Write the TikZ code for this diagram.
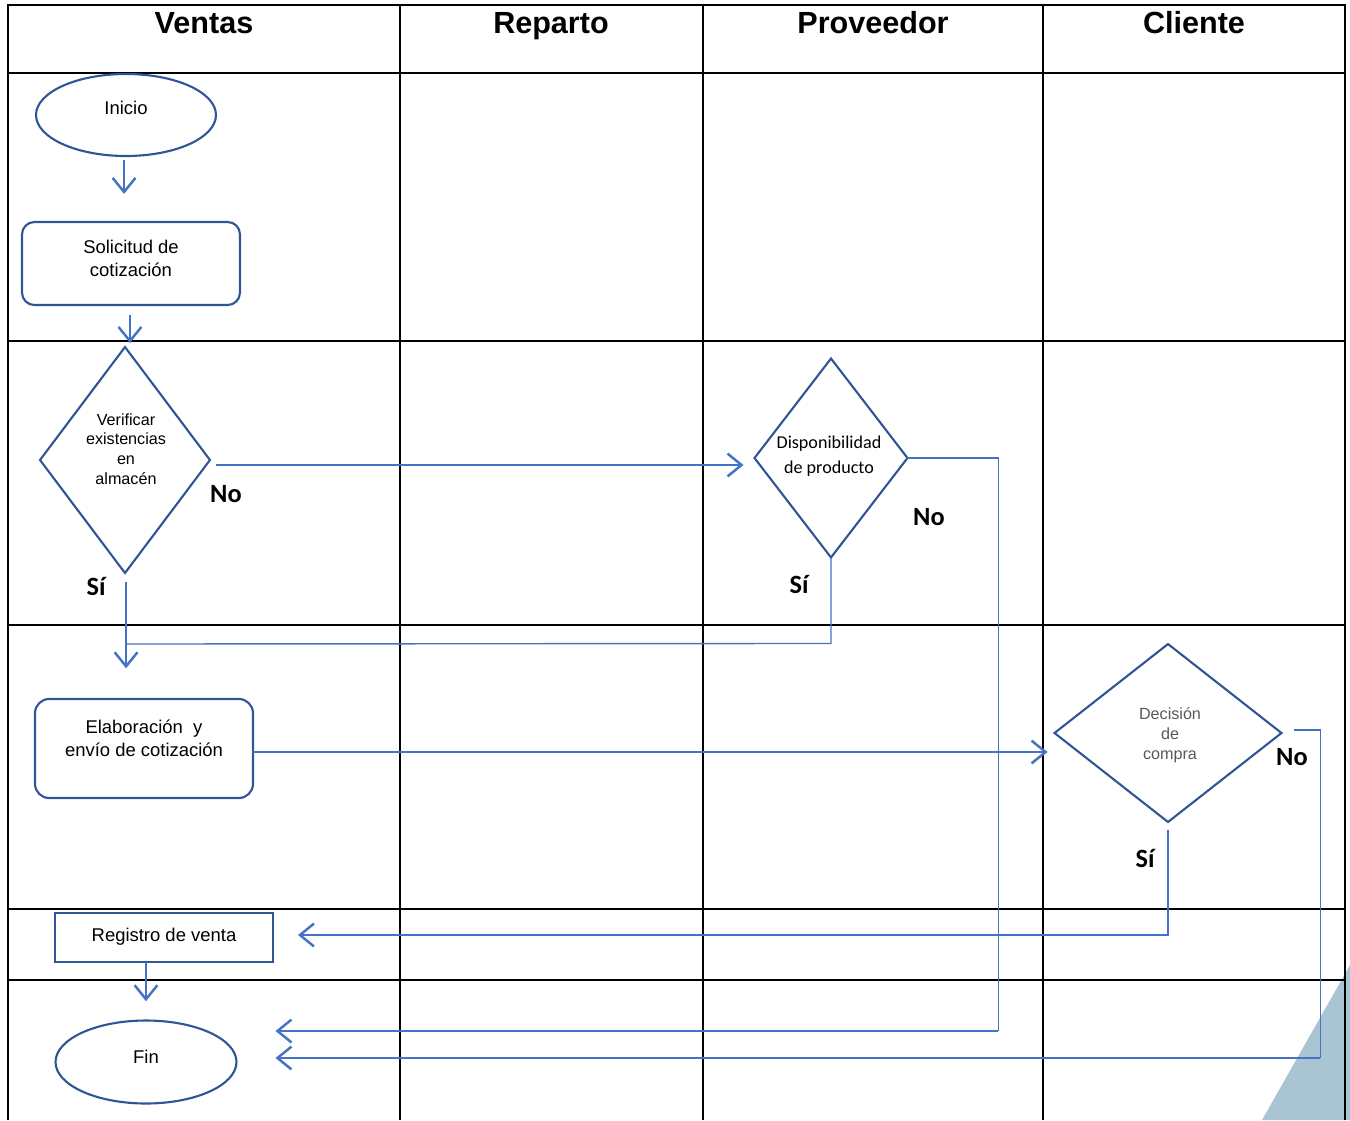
\documentclass[tikz,border=0pt]{standalone}
\usepackage{fontspec}
\setmainfont{Liberation Sans}
\newfontfamily\calibri{Carlito}
\usetikzlibrary{shapes.geometric,arrows.meta}
\definecolor{linkblue}{HTML}{4472C4}
\definecolor{shapeblue}{HTML}{2F5597}
\definecolor{cornergray}{HTML}{A9C5D3}
\definecolor{softtext}{HTML}{595959}

\begin{document}
\begin{tikzpicture}[x=0.02cm,y=-0.02cm,
  lane/.style={line width=1.2pt,black},
  head/.style={anchor=base,font=\fontsize{17.4}{20}\selectfont\bfseries},
  txt/.style={align=center,inner sep=0pt,font=\fontsize{10.5}{13}\selectfont},
  smalltxt/.style={align=center,inner sep=0pt,font=\fontsize{9.2}{11.3}\selectfont},
  answer/.style={inner sep=0pt,font=\fontsize{15}{18}\calibri\bfseries},
  term/.style={ellipse,draw=shapeblue,line width=1.2pt,outer sep=0pt},
  task/.style={rectangle,draw=shapeblue,line width=1.2pt,outer sep=0pt,minimum width=4.36cm},
  ask/.style={diamond,draw=shapeblue,line width=1.2pt,outer sep=0pt,inner sep=0pt},
  flow/.style={linkblue,line width=1.4pt,-{Straight Barb[length=8pt,width=13pt,line width=1.4pt]}},
  route/.style={linkblue,line width=0.8pt}]

  \useasboundingbox (0,0) rectangle (1350,1120);
  \fill[cornergray] (1262,1120) -- (1350,965) -- (1350,1120) -- cycle;

  % lanes
  \draw[lane] (8,1120) -- (8,5) -- (1345,5) -- (1345,1120);
  \foreach \xl in {400,703,1043}
    \draw[lane] (\xl,5) -- (\xl,1120);
  \foreach \yl in {73,341,625,909,980}
    \draw[lane] (8,\yl) -- (1345,\yl);

  \node[head] (ventas) at (204,33) {Ventas};
  \node[head] (reparto) at (551,33) {Reparto};
  \node[head] (proveedor) at (873,33) {Proveedor};
  \node[head] (cliente) at (1194,33) {Cliente};

  % shapes
  \node[term,minimum width=3.6cm,minimum height=1.64cm] (inicio) at (126,115) {};
  \node[txt] (inicio-t) at (126,108) {Inicio};

  \node[task,rounded corners=7pt,minimum height=1.66cm] (solicitud) at (131,263.5) {};
  \node[txt] (solicitud-t) at (131,258.5) {Solicitud de\\cotización};

  \node[ask,minimum width=3.4cm,minimum height=4.52cm] (verificar) at (125,460) {};
  \node[smalltxt] (verificar-t) at (126,449) {Verificar\\existencias\\en\\almacén};

  \node[ask,minimum width=3.06cm,minimum height=3.98cm] (dispon) at (831,458) {};
  \node[align=center,inner sep=0pt,font=\fontsize{10.3}{14.2}\calibri] (dispon-t) at (829,456.5)
    {Disponibilidad\\de producto};

  \node[task,rounded corners=8pt,minimum height=1.98cm] (elab) at (144,748.5) {};
  \node[txt] (elab-t) at (144,738.5) {Elaboración~ y\\envío de cotización};

  \node[ask,minimum width=4.54cm,minimum height=3.56cm] (decision) at (1168,733) {};
  \node[smalltxt,text=softtext] (decision-t) at (1170,735) {Decisión\\de\\compra};

  \node[task,minimum height=0.98cm] (registro) at (164,937.5) {};
  \node[txt] (registro-t) at (164,937) {Registro de venta};

  \node[term,minimum width=3.62cm,minimum height=1.66cm] (fin) at (146,1062) {};
  \node[txt] (fin-t) at (146,1057) {Fin};

  % answers
  \node[answer] (no1) at (226,494) {No};
  \node[answer] (si1) at (96,586) {Sí};
  \node[answer] (no2) at (929,517) {No};
  \node[answer] (si2) at (799,584) {Sí};
  \node[answer] (no3) at (1292,757) {No};
  \node[answer] (si3) at (1145,858) {Sí};

  % connectors
  \draw[flow,shorten <=2.3pt,shorten >=16pt] ([xshift=-1.1pt]inicio.south) -- ([xshift=-1.1pt]inicio.south |- solicitud.north);
  \draw[flow,shorten <=5.7pt,shorten >=2.3pt] ([xshift=-0.6pt]solicitud.south) -- ([xshift=-0.6pt]solicitud.south |- verificar.north);
  \draw[flow] ([shift={(6,5)}]verificar.east) -- ([shift={(-11,7)}]dispon.west);
  \draw[route] (dispon.east) -- ++(91,0) -- ++(0,573) coordinate (dcorner);
  \draw[flow] (dcorner) -- ([shift={(39,-31)}]fin.east);
  \draw[flow,shorten <=5pt,shorten >=17.5pt] ([xshift=0.6pt]verificar.south) -- ([xshift=0.6pt]verificar.south |- elab.north);
  \draw[route] (dispon.south) -- ++(0,86) -- ([xshift=0.6pt]verificar.south |- 0,644);
  \draw[flow] (elab.east |- 0,752) -- ([shift={(-7,19)}]decision.west);
  \draw[flow] ([shift={(0,8)}]decision.south) |- ([shift={(25,-2.5)}]registro.east);
  \draw[route] ([shift={(13,-3)}]decision.east) -- ++(26,0) -- ++(0,328) coordinate (ncorner);
  \draw[flow] (ncorner) -- ([shift={(39,-4)}]fin.east);
  \draw[flow,shorten >=11pt] (fin.north |- registro.south) -- (fin.north);
\end{tikzpicture}
\end{document}
